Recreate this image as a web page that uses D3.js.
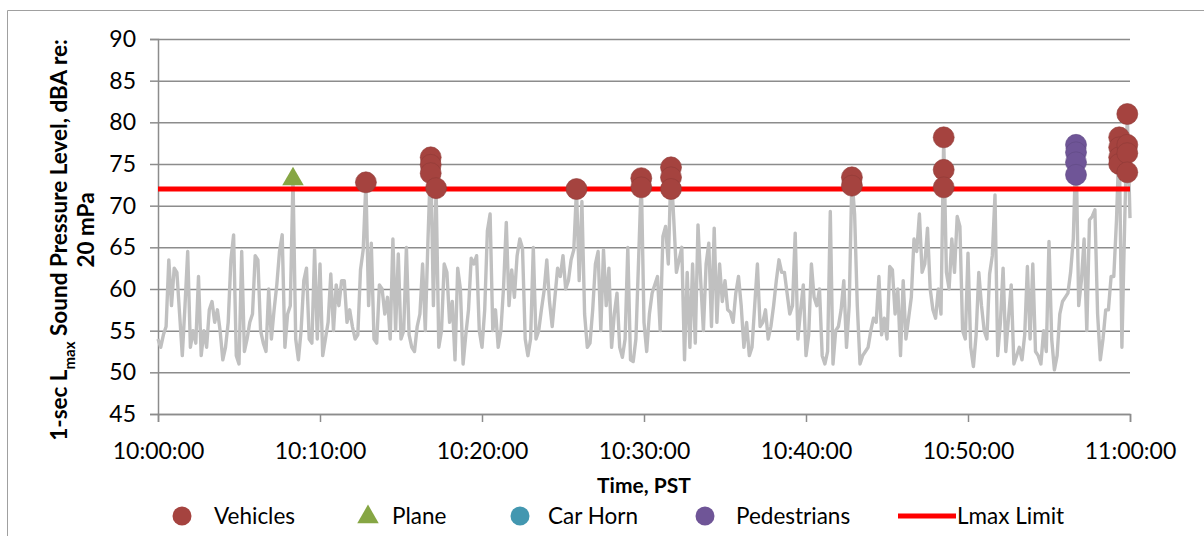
<!DOCTYPE html>
<html><head><meta charset="utf-8">
<script src="https://cdn.jsdelivr.net/npm/d3@7"></script>
<style>
html,body{margin:0;padding:0;background:#fff;}
svg{display:block;font-family:Lato,"Open Sans",sans-serif;}
</style></head><body>
<svg id="chart" width="1204" height="536"></svg>
<script>
// ---------- data ----------
const yTicks = [45, 50, 55, 60, 65, 70, 75, 80, 85, 90];
const xTickLabels = ["10:00:00", "10:10:00", "10:20:00", "10:30:00", "10:40:00", "10:50:00", "11:00:00"];
const startTime = "10:00:00";
const endTime = "11:00:00";
const lineStepSeconds = 10;
const lmaxSeries = [
54,53,54.5,55.5,63.5,58,62.5,62,57,52,
58,64.5,53,55,53.5,61.5,52,55,53,57.5,
58.5,56,57.5,55,51.5,53,56,63.5,66.5,52,
51,64.5,52.5,54,56,57,64,63.5,55,53.5,
52.5,60,54,57.5,60.5,64.5,66.5,53,57,58,
73.3,54,51.5,55,61,62.5,54,53.5,64.7,54,
63,52,54,56,61.8,55,60.5,58,61,61,
56,57.5,55.5,54,54.5,62.3,64.7,72.8,58,65.5,
54,53.5,60.5,60,57,59,54,66,55,64.2,
54,55,65,54.5,53,52.5,55.5,57,63,55,
66,75.8,58,72.1,53,55,63,62,56,58.5,
51.5,62.5,60,51,54.5,57.5,63.7,63,64,55,
53,57.5,67,69,55,57.5,53,55,60.3,68,
58,62.3,59,64,66,64.9,54,52,54,65,
54,55,57.5,59.8,63.5,58.5,55.5,59,62.5,61.5,
64,60,61,63.5,64.7,72.0,61,70.5,57,53,
53.5,57.5,63,64.5,55,64.7,58,62.5,53,57,
59.5,53,51.8,54,65,51.5,51.3,54,63.5,73.3,
56,52.5,57,59.5,60.5,61.5,55,66.3,67.5,63,
74.6,68.5,62,63.5,65,51.5,62,53,63,53.5,
67.7,61,55,63,65.5,55.5,67.3,56,63,58.5,
61,57.5,57.2,56,59.5,61.5,58,53,56,52,
53,58,63,55.5,56,57.5,54,55.5,58,61,
63.5,62,62,59.5,57,58,66.7,54,57.5,60.5,
52,54.5,63,59,58,60,52,51,52.5,69.3,
51,55,55.5,57.5,61,53,58,73.4,69,58,
51,52,52.5,53,55,56.5,56,61.5,54.5,56.5,
54,62.7,62.3,57,60,52,61,54,56.5,59,
66,64.5,69,62,63,67.3,60,57.5,56.5,60,
57,78.2,62,60,66,62,68.7,67.5,55,54,
64.3,53,50.7,54.5,62,58,55,54,61.8,64,
71.3,52,56,62.5,52.5,56.5,60.5,51,52,53,
51.5,54.5,62.7,54,63,52.5,52,51,55,52.5,
65.7,54,50.3,52,57,58.5,59,59.5,62,66,
77.3,58,61,66,55,68.3,68.7,69.5,57,51.5,
54,57.5,57.5,61.5,61.5,68.3,78.2,53,67.5,81,
68.5
];
const lmaxLimit = 72;
const vehicleTimes = ["10:12:50","10:16:50","10:16:50","10:16:50","10:17:10","10:25:50","10:29:50","10:29:50",
  "10:31:40","10:31:40","10:31:40","10:42:50","10:42:50","10:48:30","10:48:30","10:48:30",
  "10:59:20","10:59:20","10:59:20","10:59:20","10:59:50","10:59:50","10:59:50","10:59:50"];
const vehicleValues = [72.8,75.8,74.9,73.9,72.1,72.0,73.3,72.2,
  74.6,73.4,72.0,73.4,72.4,78.2,74.3,72.2,
  78.2,77.0,75.8,75.0,81.0,77.3,76.3,74.0];
const planeTimes = ["10:08:20"];
const planeValues = [73.3];
const carHornTimes = [];
const carHornValues = [];
const pedestrianTimes = ["10:56:40","10:56:40","10:56:40","10:56:40"];
const pedestrianValues = [77.3,76.4,75.2,73.7];
const legendLabels = ["Vehicles","Plane","Car Horn","Pedestrians","Lmax Limit"];

// ---------- drawing ----------
const colors = {vehicle:"#a5433f", plane:"#86a644", horn:"#4397b0", ped:"#6f5597", limit:"#ff0000", line:"#c0c0c0", grid:"#8c8c8c"};
const svg = d3.select("#chart");
const parse = d3.timeParse("%H:%M:%S");
const t0 = parse(startTime), t1 = parse(endTime);
const L = 158, R = 1130, T = 39, B = 414;
const x = d3.scaleTime().domain([t0, t1]).range([L, R]);
const y = d3.scaleLinear().domain([45, 90]).range([B, T]);

// chart frame
svg.append("path").attr("d", "M7.5,536V10.5H1204").attr("fill","none").attr("stroke","#a0a0a0").attr("stroke-width",1);

// gridlines
const grid = svg.append("g").attr("transform", `translate(${L},0)`)
  .call(d3.axisLeft(y).tickValues(yTicks).tickSize(-(R - L)).tickFormat(""));
grid.select(".domain").remove();
grid.selectAll("line").attr("stroke", colors.grid).attr("stroke-width", 1.5);

// y axis
const yAxis = svg.append("g").attr("transform", `translate(${L},0)`)
  .call(d3.axisLeft(y).tickValues(yTicks).tickSize(8).tickPadding(14));
yAxis.select(".domain").attr("stroke", colors.grid).attr("stroke-width", 1.5);
yAxis.selectAll("line").attr("stroke", colors.grid).attr("stroke-width", 1.5);
yAxis.selectAll("text").attr("font-size", 23).attr("fill", "#000").attr("font-family","Lato");

// x axis
const xAxis = svg.append("g").attr("transform", `translate(0,${B})`)
  .call(d3.axisBottom(x).tickValues(xTickLabels.map(parse)).tickFormat(d3.timeFormat("%H:%M:%S")).tickSize(8).tickPadding(21));
xAxis.select(".domain").attr("stroke", colors.grid).attr("stroke-width", 1.5);
xAxis.selectAll("line").attr("stroke", colors.grid).attr("stroke-width", 1.5);
xAxis.selectAll("text").attr("font-size", 23).attr("fill", "#000").attr("font-family","Lato");

// gray Lmax line
const lineData = lmaxSeries.map((v, i) => ({t: d3.timeSecond.offset(t0, i * lineStepSeconds), v}));
svg.append("path").datum(lineData)
  .attr("fill","none").attr("stroke", colors.line).attr("stroke-width", 3.4)
  .attr("stroke-linejoin","round")
  .attr("d", d3.line().x(d => x(d.t)).y(d => y(d.v)));

// limit line
svg.append("line").attr("x1", x(t0)).attr("x2", x(t1)).attr("y1", y(lmaxLimit)).attr("y2", y(lmaxLimit))
  .attr("stroke", colors.limit).attr("stroke-width", 5);

// markers
function circles(times, values, color) {
  svg.append("g").selectAll("circle").data(times.map((t, i) => ({t: parse(t), v: values[i]})))
    .join("circle").attr("cx", d => x(d.t)).attr("cy", d => y(d.v)).attr("r", 10.5)
    .attr("fill", color).attr("stroke", d3.color(color).darker(0.4)).attr("stroke-width", 0.6);
}
circles(vehicleTimes, vehicleValues, colors.vehicle);
circles(carHornTimes, carHornValues, colors.horn);
circles(pedestrianTimes, pedestrianValues, colors.ped);
const tri = d3.symbol().type(d3.symbolTriangle).size(200);
svg.append("g").selectAll("path").data(planeTimes.map((t, i) => ({t: parse(t), v: planeValues[i]})))
  .join("path").attr("d", tri).attr("transform", d => `translate(${x(d.t)},${y(d.v) + 1})`)
  .attr("fill", colors.plane);

// axis titles
const yTitle = svg.append("text").attr("transform", "translate(59,240) rotate(-90)")
  .attr("text-anchor","middle").attr("dy","0.35em").attr("font-size", 22.5).attr("font-weight","bold").attr("fill","#000");
yTitle.append("tspan").text("1-sec L");
yTitle.append("tspan").text("max").attr("font-size", 15).attr("dy", "0.55em");
yTitle.append("tspan").text(" Sound Pressure Level, dBA re:").attr("dy", "-0.37em");
svg.append("text").attr("transform", "translate(86,230) rotate(-90)")
  .attr("text-anchor","middle").attr("dy","0.35em").attr("font-size", 22.5).attr("font-weight","bold").attr("fill","#000")
  .text("20 mPa");
svg.append("text").attr("x", (L + R) / 2).attr("y", 486).attr("dy","0.35em").attr("text-anchor","middle")
  .attr("font-size", 21).attr("font-weight","bold").attr("fill","#000").text("Time, PST");

// legend
const legendY = 516;
const lg = svg.append("g");
const legendMarkX = [182, 368, 520, 705, 898];
const legendTextX = [214, 392, 548, 736, 957];
lg.append("circle").attr("cx", legendMarkX[0]).attr("cy", legendY).attr("r", 9.5).attr("fill", colors.vehicle);
lg.append("path").attr("d", tri).attr("transform", `translate(${legendMarkX[1]},${legendY + 1})`).attr("fill", colors.plane);
lg.append("circle").attr("cx", legendMarkX[2]).attr("cy", legendY).attr("r", 9.5).attr("fill", colors.horn);
lg.append("circle").attr("cx", legendMarkX[3]).attr("cy", legendY).attr("r", 9.5).attr("fill", colors.ped);
lg.append("line").attr("x1", legendMarkX[4]).attr("x2", legendMarkX[4] + 58).attr("y1", legendY).attr("y2", legendY)
  .attr("stroke", colors.limit).attr("stroke-width", 5);
lg.selectAll("text").data(legendLabels).join("text")
  .attr("x", (d, i) => legendTextX[i]).attr("y", legendY).attr("dy","0.35em")
  .attr("font-size", 22.5).attr("fill","#000").text(d => d);
</script>
</body></html>
